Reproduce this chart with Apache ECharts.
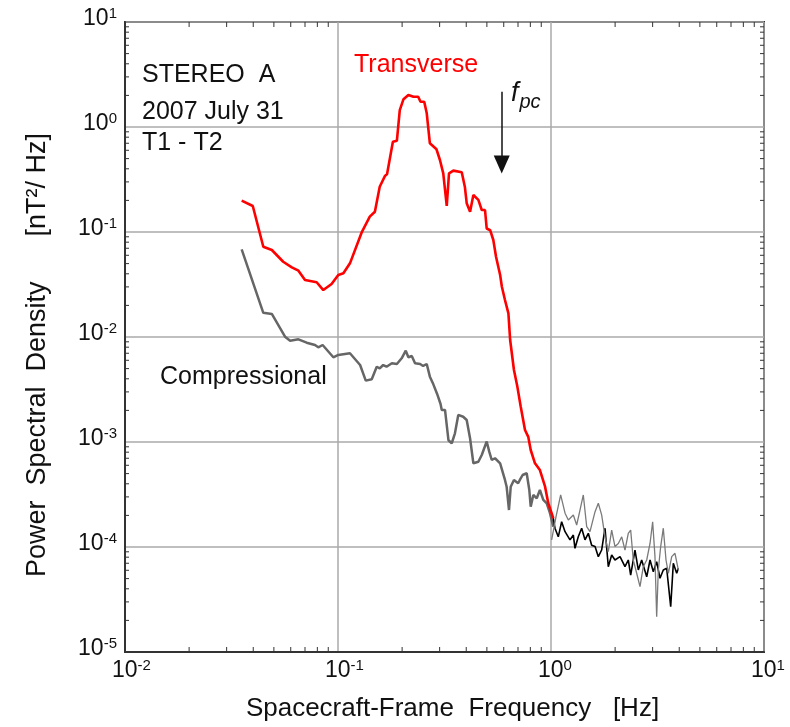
<!DOCTYPE html>
<html>
<head>
<meta charset="utf-8">
<script src="https://cdn.jsdelivr.net/npm/echarts@6/dist/echarts.min.js"></script>
<style>
  html, body { margin: 0; padding: 0; background: #fff; }
  #chart { width: 790px; height: 727px; }
</style>
</head>
<body>
<div id="chart"></div>
<script>
// transverse PSD (red), spacecraft frame frequency in Hz
var transFreq = [0.0353, 0.0398, 0.0446, 0.0489, 0.0553, 0.0607, 0.0652, 0.0700, 0.0794, 0.0853,
  0.0933, 0.1003, 0.106, 0.1138, 0.129, 0.141, 0.149, 0.157, 0.166, 0.170,
  0.181, 0.189, 0.195, 0.203, 0.214, 0.226, 0.238, 0.244, 0.254, 0.261,
  0.270, 0.290, 0.301, 0.312, 0.324, 0.332, 0.348, 0.381, 0.394, 0.402,
  0.417, 0.432, 0.456, 0.473, 0.490, 0.499, 0.518, 0.536, 0.552, 0.577,
  0.588, 0.608, 0.631, 0.643, 0.670, 0.695, 0.721, 0.755, 0.782, 0.803,
  0.841, 0.887, 0.938, 0.971, 1.025];
var transPsd = [0.199, 0.177, 0.0724, 0.0674, 0.0521, 0.0461, 0.0428, 0.0349, 0.0332, 0.0280,
  0.0320, 0.0389, 0.0404, 0.0503, 0.0985, 0.140, 0.156, 0.270, 0.341, 0.356,
  0.724, 0.741, 1.45, 1.84, 2.02, 1.94, 1.94, 1.74, 1.74, 1.35,
  0.700, 0.613, 0.485, 0.362, 0.177, 0.362, 0.384, 0.371, 0.270, 0.188,
  0.156, 0.225, 0.202, 0.162, 0.162, 0.108, 0.104, 0.0839, 0.0582, 0.0389,
  0.0301, 0.0225, 0.0168, 0.00936, 0.00485, 0.00337, 0.00217, 0.00130, 0.00112, 0.000839,
  0.000627, 0.000541, 0.000375, 0.000261, 0.000188];

// compressional PSD (dark grey)
var compFreq = [0.0353, 0.0446, 0.0489, 0.0564, 0.0596, 0.0652, 0.0713, 0.0780, 0.0808, 0.0847,
  0.0951, 0.1003, 0.1138, 0.127, 0.135, 0.144, 0.152, 0.157, 0.163, 0.169,
  0.179, 0.189, 0.199, 0.208, 0.214, 0.222, 0.230, 0.243, 0.251, 0.261,
  0.270, 0.280, 0.292, 0.303, 0.307, 0.318, 0.330, 0.342, 0.354, 0.367,
  0.387, 0.402, 0.417, 0.432, 0.456, 0.473, 0.499, 0.513, 0.527, 0.546,
  0.577, 0.608, 0.619, 0.635, 0.647, 0.670, 0.701, 0.714, 0.736, 0.769,
  0.791, 0.803, 0.826, 0.857, 0.887, 0.920, 0.955, 0.989, 1.025];
var compPsd = [0.0684, 0.0170, 0.0166, 0.01007, 0.00922, 0.00951, 0.00883, 0.00839, 0.00798, 0.00839,
  0.00641, 0.00674, 0.00700, 0.00541, 0.00384, 0.00396, 0.00521, 0.00503, 0.00541, 0.00521,
  0.00562, 0.00553, 0.00627, 0.00741, 0.00641, 0.00659, 0.00562, 0.00553, 0.00530, 0.00553,
  0.00419, 0.00356, 0.00287, 0.00230, 0.00202, 0.00202, 0.00104, 0.000973, 0.00121, 0.00181,
  0.00174, 0.00162, 0.00108, 0.000627, 0.000649, 0.000752, 0.00101, 0.000809, 0.000674, 0.000700,
  0.000627, 0.000435, 0.000375, 0.000225, 0.000375, 0.000435, 0.000405, 0.000435, 0.000485, 0.000504,
  0.000349, 0.000242, 0.000313, 0.000291, 0.000349, 0.000281, 0.000261, 0.000210, 0.000156];

// high frequency part, transverse (black)
var hiTransFreq = [1.025, 1.044, 1.082, 1.122, 1.164, 1.228, 1.273, 1.296, 1.343, 1.393,
  1.444, 1.497, 1.552, 1.610, 1.668, 1.729, 1.793, 1.858, 1.927, 1.997,
  2.109, 2.225, 2.306, 2.366, 2.479, 2.570, 2.665, 2.814, 2.917, 3.023,
  3.134, 3.249, 3.367, 3.492, 3.647, 3.752, 3.892, 3.961];
var hiTransPsd = [0.000188, 0.000151, 0.000125, 0.000174, 0.000140, 0.000117, 0.000130, 0.0000972, 0.000125, 0.000151,
  0.000117, 0.000135, 0.000104, 0.000101, 0.0000809, 0.0000936, 0.000151, 0.0000649, 0.0000839, 0.0000752,
  0.0000809, 0.0000649, 0.0000752, 0.0000541, 0.0000936, 0.0000604, 0.0000752, 0.0000521, 0.0000752, 0.0000582,
  0.0000724, 0.0000504, 0.0000604, 0.0000627, 0.0000270, 0.0000700, 0.0000562, 0.0000627];

// high frequency part, compressional (light grey)
var hiCompFreq = [1.007, 1.056, 1.110, 1.164, 1.206, 1.273, 1.320, 1.368, 1.418, 1.471,
  1.524, 1.610, 1.668, 1.729, 1.793, 1.858, 1.927, 1.997, 2.070, 2.148,
  2.225, 2.306, 2.366, 2.434, 2.525, 2.617, 2.712, 2.814, 2.917, 3.001,
  3.077, 3.134, 3.190, 3.273, 3.367, 3.467, 3.556, 3.688, 3.820, 3.961];
var hiCompPsd = [0.000117, 0.000195, 0.000313, 0.000210, 0.000181, 0.000202, 0.000162, 0.000225, 0.000313, 0.000156,
  0.000140, 0.000217, 0.000261, 0.000202, 0.000125, 0.0000902, 0.000145, 0.000101, 0.000108, 0.000125,
  0.0000936, 0.000135, 0.000145, 0.0000752, 0.0000562, 0.0000419, 0.0000649, 0.0000752, 0.000108, 0.000174,
  0.0000809, 0.0000217, 0.0000604, 0.000101, 0.000151, 0.0000752, 0.0000562, 0.0000809, 0.0000871, 0.0000604];

// proton cyclotron frequency arrow
var fpc = 0.587;
var fpcArrow = [2.17, 0.44];

var xRange = [0.01, 10];
var yRange = [1e-5, 10];

var FONT = 'Liberation Sans, Arial, Helvetica, sans-serif';

function zip(a, b) {
  var out = [];
  for (var i = 0; i < a.length; i++) out.push([a[i], b[i]]);
  return out;
}

// minor tick values 2..9 in every decade
function minorTicks(lo, hi) {
  var out = [];
  for (var d = Math.round(Math.log10(lo)); d < Math.round(Math.log10(hi)); d++) {
    for (var m = 2; m <= 9; m++) out.push(m * Math.pow(10, d));
  }
  return out;
}

function expLabel(v) {
  var e = Math.round(Math.log10(v));
  var pad = e < 0 ? 'p2' : 'p1';
  return '{' + pad + '|}{b|10}{s|' + e + '}';
}

var labelRich = {
  b: { fontSize: 23, fontFamily: FONT, color: '#111', lineHeight: 24, padding: [8, 0, 0, 0], verticalAlign: 'bottom' },
  s: { fontSize: 15, fontFamily: FONT, color: '#111', lineHeight: 16, verticalAlign: 'top' },
  p1: { width: 8 },
  p2: { width: 13 }
};

var tickStyle = { stroke: '#333', lineWidth: 1 };

var myChart = echarts.init(document.getElementById('chart'));

var option = {
  backgroundColor: '#fff',
  animation: false,
  grid: {
    left: 125, right: 26, top: 22, bottom: 75,
    show: true, borderColor: '#333', borderWidth: 2,
    outerBoundsMode: 'none'
  },
  xAxis: {
    type: 'log', logBase: 10, min: xRange[0], max: xRange[1], splitNumber: 3,
    axisLine: { show: true, lineStyle: { color: '#333', width: 2 } },
    axisTick: { show: false },
    axisLabel: { margin: 6, formatter: expLabel, rich: labelRich },
    splitLine: { show: true, lineStyle: { color: '#aaa', width: 1.5 } },
    name: 'Spacecraft-Frame  Frequency   [Hz]',
    nameLocation: 'middle', nameGap: 44,
    nameTextStyle: { fontSize: 26, fontFamily: FONT, color: '#111', padding: [0, 0, 0, 16] }
  },
  yAxis: {
    type: 'log', logBase: 10, min: yRange[0], max: yRange[1], splitNumber: 6,
    axisLine: { show: true, lineStyle: { color: '#333', width: 2 } },
    axisTick: { show: false },
    axisLabel: {
      margin: 8,
      formatter: function (v) { return '{b|10}{s|' + Math.round(Math.log10(v)) + '}'; },
      rich: labelRich, padding: [0, 0, 8, 0]
    },
    splitLine: { show: true, lineStyle: { color: '#aaa', width: 1.5 } },
    name: 'Power  Spectral  Density      [nT\u00b2/ Hz]',
    nameLocation: 'middle', nameGap: 74, nameRotate: 90,
    nameTextStyle: { fontSize: 27, fontFamily: FONT, color: '#111', padding: [0, 36, 0, 0] }
  },
  graphic: [
    { type: 'text', style: { x: 142, y: 75, text: 'STEREO  A', font: '25px ' + FONT, fill: '#111', verticalAlign: 'middle' } },
    { type: 'text', style: { x: 142, y: 112, text: '2007 July 31', font: '25px ' + FONT, fill: '#111', verticalAlign: 'middle' } },
    { type: 'text', style: { x: 142, y: 143, text: 'T1 - T2', font: '25px ' + FONT, fill: '#111', verticalAlign: 'middle' } },
    { type: 'text', style: { x: 354, y: 65, text: 'Transverse', font: '25px ' + FONT, fill: '#ff0000', verticalAlign: 'middle' } },
    { type: 'text', style: { x: 160, y: 377, text: 'Compressional', font: '25px ' + FONT, fill: '#111', verticalAlign: 'middle' } },
    {
      type: 'text',
      style: {
        x: 511, y: 80, text: '{f|f}{s|pc}',
        rich: {
          f: { fontSize: 27, fontStyle: 'italic', fontFamily: FONT, fill: '#111', lineHeight: 28, verticalAlign: 'top' },
          s: { fontSize: 20, fontStyle: 'italic', fontFamily: FONT, fill: '#111', lineHeight: 20, padding: [12, 0, 0, 1], verticalAlign: 'top' }
        }
      }
    }
  ],
  series: [
    {
      name: 'xticks', type: 'custom', silent: true, z: 1,
      data: minorTicks(xRange[0], xRange[1]).map(function (v) { return [v, yRange[0]]; }),
      renderItem: function (params, api) {
        var v = api.value(0);
        var b = api.coord([v, yRange[0]]);
        var t = api.coord([v, yRange[1]]);
        return { type: 'group', children: [
          { type: 'line', shape: { x1: b[0], y1: b[1], x2: b[0], y2: b[1] - 5 }, style: tickStyle },
          { type: 'line', shape: { x1: t[0], y1: t[1], x2: t[0], y2: t[1] + 5 }, style: tickStyle }
        ] };
      }
    },
    {
      name: 'yticks', type: 'custom', silent: true, z: 1,
      data: minorTicks(yRange[0], yRange[1]).map(function (v) { return [xRange[0], v]; }),
      renderItem: function (params, api) {
        var v = api.value(1);
        var l = api.coord([xRange[0], v]);
        var r = api.coord([xRange[1], v]);
        return { type: 'group', children: [
          { type: 'line', shape: { x1: l[0], y1: l[1], x2: l[0] + 4, y2: l[1] }, style: tickStyle },
          { type: 'line', shape: { x1: r[0], y1: r[1], x2: r[0] - 4, y2: r[1] }, style: tickStyle }
        ] };
      }
    },
    {
      name: 'Compressional', type: 'line', showSymbol: false, symbol: 'none',
      data: zip(compFreq, compPsd),
      lineStyle: { color: '#666', width: 2.5 }
    },
    {
      name: 'Transverse HF', type: 'line', showSymbol: false, symbol: 'none',
      data: zip(hiTransFreq, hiTransPsd),
      lineStyle: { color: '#000', width: 1.6 }
    },
    {
      name: 'Compressional HF', type: 'line', showSymbol: false, symbol: 'none',
      data: zip(hiCompFreq, hiCompPsd),
      lineStyle: { color: '#7a7a7a', width: 1.3 }
    },
    {
      name: 'Transverse', type: 'line', showSymbol: false, symbol: 'none',
      data: zip(transFreq, transPsd),
      lineStyle: { color: '#ff0000', width: 2.6 },
      markLine: {
        silent: true, animation: false,
        symbol: ['none', 'triangle'], symbolSize: [16, 18],
        label: { show: false },
        lineStyle: { color: '#111', width: 1.5, type: 'solid' },
        data: [[{ coord: [fpc, fpcArrow[0]] }, { coord: [fpc, fpcArrow[1]] }]]
      }
    }
  ]
};

myChart.setOption(option);
</script>
</body>
</html>
